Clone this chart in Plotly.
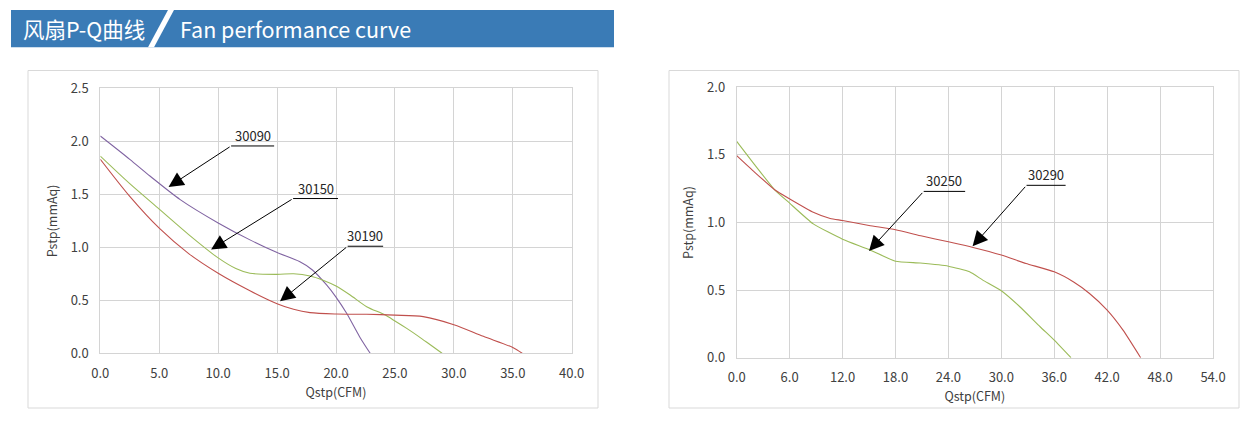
import plotly.graph_objects as go

# ---- data ----
# left chart: Qstp (CFM) vs Pstp (mmAq)
q_30090 = [0, 2.5, 4.24, 6.78, 10, 12.7, 15, 16.9, 18.0, 19.2, 20, 20.9, 22.0, 22.9]
p_30090 = [2.05, 1.83, 1.67, 1.45, 1.23, 1.07, 0.95, 0.865, 0.786, 0.645, 0.53, 0.377, 0.157, 0]

q_30150 = [0, 2.5, 5, 7.5, 10, 11.5, 12.7, 15, 16.4, 17.8, 18.9, 20, 21.2, 22.6, 24.1, 25, 26, 27, 28, 29]
p_30150 = [1.86, 1.6, 1.36, 1.12, 0.90, 0.80, 0.755, 0.745, 0.75, 0.73, 0.69, 0.635, 0.55, 0.44,
           0.365, 0.305, 0.235, 0.16, 0.08, 0]

q_30190 = [0, 2.5, 5, 7.5, 10, 12.7, 15, 16.4, 17.8, 20, 22.6, 25, 27.4, 30, 32.5, 35, 35.8]
p_30190 = [1.83, 1.48, 1.18, 0.94, 0.755, 0.59, 0.468, 0.415, 0.384, 0.371, 0.368, 0.36, 0.346,
           0.27, 0.16, 0.055, 0]

# right chart
q_30250 = [0, 2, 4.34, 6, 8.68, 12, 15, 18, 20.8, 24, 26.4, 27.9, 30, 32.1, 34.4, 36, 37.9]
p_30250 = [1.60, 1.43, 1.24, 1.143, 0.99, 0.877, 0.80, 0.714, 0.70, 0.677, 0.635, 0.574, 0.495,
           0.377, 0.229, 0.13, 0]

q_30290 = [0, 1.9, 4.34, 6, 8.68, 10.6, 12, 15, 18, 21, 24, 26.8, 30, 32.8, 36, 38.2, 40, 42, 43.8, 45.8]
p_30290 = [1.495, 1.38, 1.24, 1.175, 1.076, 1.03, 1.015, 0.978, 0.946, 0.90, 0.857, 0.815, 0.759,
           0.697, 0.635, 0.56, 0.475, 0.352, 0.204, 0]

# callouts: label, arrow tip (x, y), underline start (x, y), underline end x
callouts_left = [
    ("30090", 5.79, 1.57, 11.1, 1.956, 14.75),
    ("30150", 9.4, 0.98, 16.36, 1.46, 20.17),
    ("30190", 15.25, 0.49, 20.99, 1.01, 24.0),
]
callouts_right = [
    ("30250", 15.0, 0.79, 21.2, 1.23, 25.9),
    ("30290", 26.74, 0.824, 32.86, 1.275, 37.29),
]

W, H = 1257, 423
FONT = "Noto Sans CJK SC"
PURPLE = "#8064A2"
GREEN = "#9BBB59"
RED = "#C0504D"
GRID = "#d4d4d4"


def px(x):
    return x / W


def py(y):
    return 1 - y / H


fig = go.Figure()

for q, p, c, name in [(q_30090, p_30090, PURPLE, "30090"),
                      (q_30150, p_30150, GREEN, "30150"),
                      (q_30190, p_30190, RED, "30190")]:
    fig.add_trace(go.Scatter(x=q, y=p, mode="lines", name=name,
                             line=dict(color=c, width=1.1, shape="spline", smoothing=0.8),
                             xaxis="x", yaxis="y"))

for q, p, c, name in [(q_30250, p_30250, GREEN, "30250"),
                      (q_30290, p_30290, RED, "30290")]:
    fig.add_trace(go.Scatter(x=q, y=p, mode="lines", name=name,
                             line=dict(color=c, width=1.1, shape="spline", smoothing=0.5),
                             xaxis="x2", yaxis="y2"))

annotations = []
shapes = []


def add_callouts(items, xr, yr):
    for label, tx, ty, sx, sy, ex in items:
        annotations.append(dict(x=tx, y=ty, ax=sx, ay=sy, xref=xr, yref=yr,
                                axref=xr, ayref=yr, text="", showarrow=True,
                                arrowhead=2, arrowsize=3, arrowwidth=1,
                                arrowcolor="black"))
        shapes.append(dict(type="line", xref=xr, yref=yr, x0=sx, y0=sy, x1=ex, y1=sy,
                           line=dict(color="black", width=1)))
        annotations.append(dict(x=(sx + ex) / 2, y=sy, xref=xr, yref=yr, text=label,
                                showarrow=False, yanchor="bottom", yshift=-1,
                                font=dict(family=FONT, size=13, color="#262626")))


add_callouts(callouts_left, "x", "y")
add_callouts(callouts_right, "x2", "y2")

# panel frames
for x0, x1 in [(28, 598), (669, 1239)]:
    shapes.append(dict(type="rect", xref="paper", yref="paper",
                       x0=px(x0), x1=px(x1), y0=py(408), y1=py(70.5),
                       line=dict(color="#d9d9d9", width=1)))

# header band with slash
shapes.append(dict(type="rect", xref="paper", yref="paper",
                   x0=px(11), x1=px(614), y0=py(47.3), y1=py(10),
                   fillcolor="#3a7bb6", line=dict(width=0), layer="below"))
shapes.append(dict(type="path", xref="paper", yref="paper",
                   path=f"M {px(168)} {py(10)} L {px(174)} {py(10)} "
                        f"L {px(154)} {py(47.3)} L {px(148)} {py(47.3)} Z",
                   fillcolor="white", line=dict(width=0)))
annotations.append(dict(x=px(21), y=py(29), xref="paper", yref="paper",
                        text="风扇P-Q曲线", showarrow=False, xanchor="left",
                        yanchor="middle",
                        font=dict(family=FONT, size=21.5, color="white")))
annotations.append(dict(x=px(178), y=py(29), xref="paper", yref="paper",
                        text="Fan performance curve", showarrow=False, xanchor="left",
                        yanchor="middle",
                        font=dict(family=FONT, size=21.5, color="white")))

axis_common = dict(showgrid=True, gridcolor=GRID, gridwidth=1, zeroline=False,
                   showline=True, linecolor=GRID, linewidth=1, mirror=True,
                   ticks="outside", ticklen=8, tickcolor="rgba(0,0,0,0)",
                   tickformat=".1f", automargin=False,
                   tickfont=dict(family=FONT, size=13, color="#404040"))

fig.update_layout(
    width=W, height=H,
    margin=dict(l=0, r=0, t=0, b=0, autoexpand=False),
    paper_bgcolor="white", plot_bgcolor="white",
    showlegend=False,
    font=dict(family=FONT, size=12, color="#404040"),
    xaxis=dict(axis_common, domain=[px(100.3), px(571.7)], range=[0, 40], dtick=5,
               anchor="y",
               title=dict(text="Qstp(CFM)", standoff=4, font=dict(family=FONT, size=12.5))),
    yaxis=dict(axis_common, domain=[py(353.3), py(88.3)], range=[0, 2.5], dtick=0.5,
               anchor="x",
               title=dict(text="Pstp(mmAq)", standoff=10, font=dict(family=FONT, size=12.5))),
    xaxis2=dict(axis_common, domain=[px(736.7), px(1213)], range=[0, 54], dtick=6,
                anchor="y2",
                title=dict(text="Qstp(CFM)", standoff=4, font=dict(family=FONT, size=12.5))),
    yaxis2=dict(axis_common, domain=[py(357.7), py(87.3)], range=[0, 2.0], dtick=0.5,
                anchor="x2",
                title=dict(text="Pstp(mmAq)", standoff=10, font=dict(family=FONT, size=12.5))),
    annotations=annotations,
    shapes=shapes,
)

fig.write_html("out.html", config={"displayModeBar": False},
               post_script="document.body.style.margin='0';document.body.style.overflow='hidden';")
